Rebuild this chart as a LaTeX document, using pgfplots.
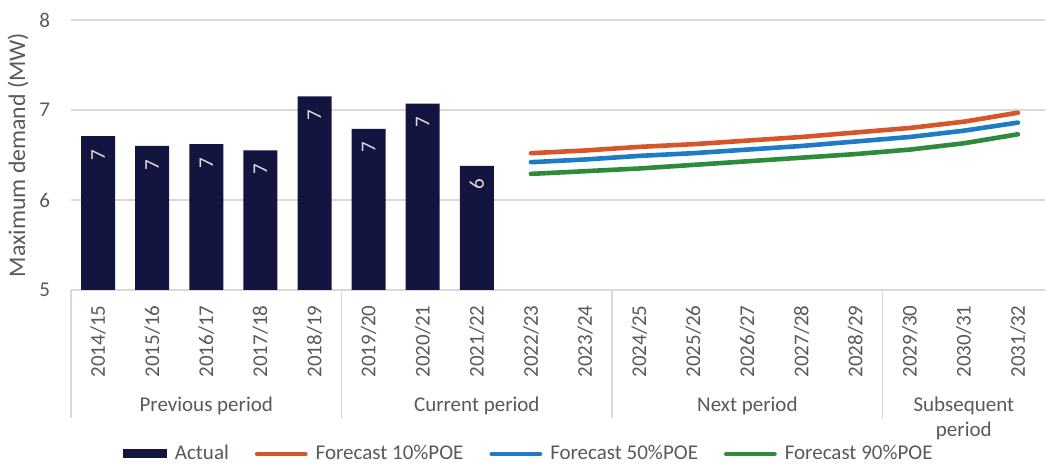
\documentclass[border=0pt]{standalone}
\usepackage{pgfplots}
\pgfplotsset{compat=1.18}
\usepackage{fontspec}
\setmainfont{Carlito}
\definecolor{txt}{HTML}{595959}
\definecolor{gridc}{HTML}{D9D9D9}
\definecolor{navy}{HTML}{141441}
\definecolor{orng}{HTML}{D6552A}
\definecolor{blu}{HTML}{1E7CC4}
\definecolor{grn}{HTML}{2E8B3B}
\begin{document}
\begin{tikzpicture}
\begin{axis}[
  at={(0,0)}, anchor=south west,
  scale only axis, width=487pt, height=135pt,
  xmin=-0.5, xmax=17.5, ymin=5, ymax=8,
  ytick={5,6,7,8},
  xtick={0,...,17},
  xticklabels={2014/15,2015/16,2016/17,2017/18,2018/19,2019/20,2020/21,2021/22,2022/23,2023/24,2024/25,2025/26,2026/27,2027/28,2028/29,2029/30,2030/31,2031/32},
  axis line style={draw=none},
  ymajorgrids, grid style={color=gridc, line width=0.75pt},
  major tick length=0pt,
  tick style={color=gridc, line width=0.75pt},
  ytick style={draw=none},
  tick pos=left,
  extra x ticks={-0.5,4.5,9.5,14.5},
  extra x tick labels={},
  extra x tick style={grid=none, major tick length=64pt, tick align=outside},
  clip mode=individual,
  /pgf/number format/assume math mode=true,
  ticklabel style={font=\fontsize{10.5}{12.6}\selectfont, text=txt},
  yticklabel style={xshift=-7pt},
  xticklabel style={rotate=90, anchor=east, inner xsep=7.5pt, inner ysep=0pt},
  ylabel={Maximum demand (MW)},
  every axis y label/.style={at={(axis description cs:0,0.5)}, xshift=-26.5pt, rotate=90, anchor=center, font=\fontsize{11.9}{14}\selectfont, text=txt},
  legend style={draw=none, fill=none, legend columns=4, at={(axis description cs:0.471,0)}, anchor=center, yshift=-82pt, font=\fontsize{10.5}{12.6}\selectfont, text=txt, /tikz/every odd column/.append style={column sep=2pt}, /tikz/every even column/.append style={column sep=11pt}, cells={anchor=west}},
]
\addplot[ybar, bar width=17pt, fill=navy, draw=none,
  nodes near coords={\pgfmathprintnumber[fixed,precision=0]{\pgfplotspointmeta}},
  every node near coord/.append style={rotate=90, anchor=east, inner xsep=6.5pt, inner ysep=0pt, font=\fontsize{10.5}{12.6}\selectfont, text=gridc},
  legend image code/.code={\fill[navy] (0pt,-2.25pt) rectangle (22pt,2.25pt);}]
coordinates {(0,6.71) (1,6.60) (2,6.62) (3,6.55) (4,7.15) (5,6.79) (6,7.07) (7,6.38)};
\addlegendentry{Actual}
\addplot[orng, line width=2.3pt, line cap=round, legend image code/.code={\draw[orng, line width=2.4pt, line cap=round] (0pt,0pt) -- (24pt,0pt);}]
coordinates {(8,6.52) (9,6.55) (10,6.59) (11,6.62) (12,6.66) (13,6.70) (14,6.75) (15,6.80) (16,6.87) (17,6.97)};
\addlegendentry{Forecast 10\%POE}
\addplot[blu, line width=2.3pt, line cap=round, legend image code/.code={\draw[blu, line width=2.4pt, line cap=round] (0pt,0pt) -- (24pt,0pt);}]
coordinates {(8,6.42) (9,6.45) (10,6.49) (11,6.52) (12,6.56) (13,6.60) (14,6.65) (15,6.70) (16,6.77) (17,6.86)};
\addlegendentry{Forecast 50\%POE}
\addplot[grn, line width=2.3pt, line cap=round, legend image code/.code={\draw[grn, line width=2.4pt, line cap=round] (0pt,0pt) -- (24pt,0pt);}]
coordinates {(8,6.29) (9,6.32) (10,6.35) (11,6.39) (12,6.43) (13,6.47) (14,6.51) (15,6.56) (16,6.63) (17,6.73)};
\addlegendentry{Forecast 90\%POE}
\node[anchor=base, inner sep=0pt, font=\fontsize{10.5}{12.6}\selectfont, text=txt, yshift=-61pt] at (axis cs:2,5) {Previous period};
\node[anchor=base, inner sep=0pt, font=\fontsize{10.5}{12.6}\selectfont, text=txt, yshift=-61pt] at (axis cs:7,5) {Current period};
\node[anchor=base, inner sep=0pt, font=\fontsize{10.5}{12.6}\selectfont, text=txt, yshift=-61pt] at (axis cs:12,5) {Next period};
\node[anchor=base, inner sep=0pt, font=\fontsize{10.5}{12.6}\selectfont, text=txt, yshift=-61pt] at (axis cs:16,5) {Subsequent};
\node[anchor=base, inner sep=0pt, font=\fontsize{10.5}{12.6}\selectfont, text=txt, yshift=-73.3pt] at (axis cs:16,5) {period};
\end{axis}
\pgfresetboundingbox
\path[use as bounding box] (-35.5pt,-87pt) rectangle (487pt,145pt);
\end{tikzpicture}
\end{document}
